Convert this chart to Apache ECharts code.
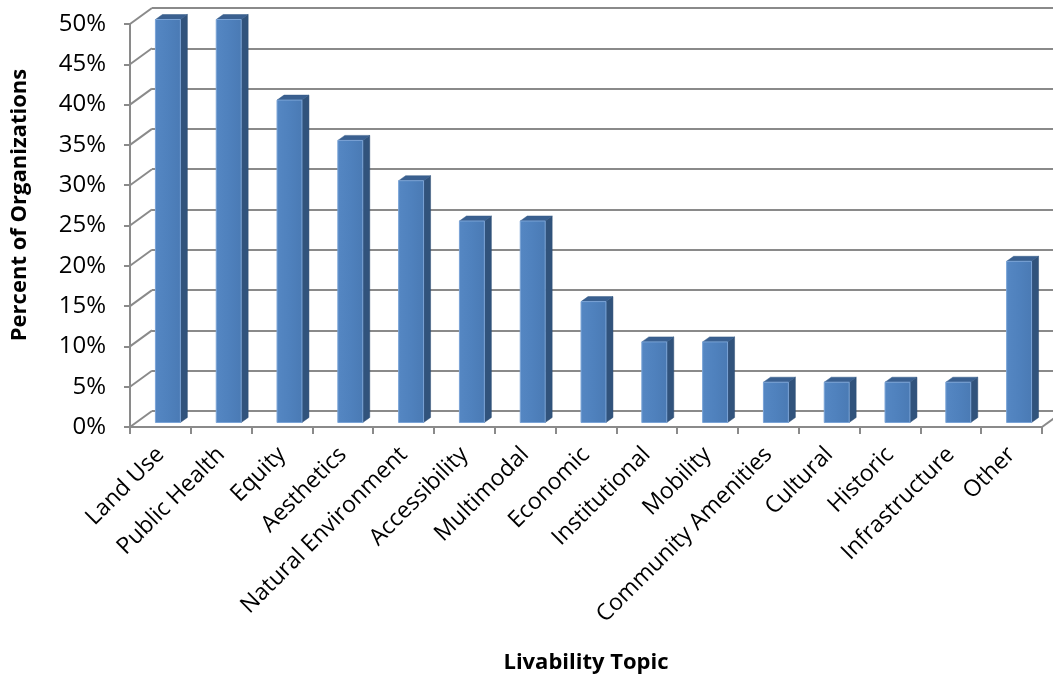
<!DOCTYPE html>
<html>
<head>
<meta charset="utf-8">
<title>Livability Topic</title>
<script src="https://cdn.jsdelivr.net/npm/echarts@6/dist/echarts.min.js"></script>
<style>
  html, body { margin: 0; padding: 0; background: #ffffff; }
  #chart { width: 1053px; height: 679px; }
</style>
</head>
<body>
<div id="chart"></div>
<script>
// Share of organizations addressing each livability topic (percent)
const categories = [
  'Land Use', 'Public Health', 'Equity', 'Aesthetics', 'Natural Environment',
  'Accessibility', 'Multimodal', 'Economic', 'Institutional', 'Mobility',
  'Community Amenities', 'Cultural', 'Historic', 'Infrastructure', 'Other'
];
const percentValues = [50, 50, 40, 35, 30, 25, 25, 15, 10, 10, 5, 5, 5, 5, 20];
const yTicks = [0, 5, 10, 15, 20, 25, 30, 35, 40, 45, 50];

// 3D look: wall depth and bar depth (pixels)
const WALL_DX = 22, WALL_DY = 16;
const BAR_DX = 7, BAR_DY = 5;
const GRID_COLOR = '#8a8a8a';
const FONT = '"Open Sans", "Liberation Sans", sans-serif';

const chart = echarts.init(document.getElementById('chart'), null, { renderer: 'canvas' });

// Left wall / floor connectors from the front axis to the back wall
function renderWall(params, api) {
  const cs = params.coordSys;
  const v = api.value(0);
  const p = api.coord([0, v]);
  const x = cs.x, y = p[1];
  const children = [{
    type: 'line',
    shape: { x1: x, y1: y, x2: x + WALL_DX, y2: y - WALL_DY },
    style: { stroke: GRID_COLOR, lineWidth: 2 }
  }];
  if (v === 0) {
    const xr = cs.x + cs.width;
    children.push({
      type: 'line',
      shape: { x1: xr, y1: y, x2: xr + WALL_DX, y2: y - WALL_DY },
      style: { stroke: GRID_COLOR, lineWidth: 2 }
    });
  }
  return { type: 'group', children: children };
}

// Extruded column: front face, right side and top
function renderBar(params, api) {
  const i = api.value(0);
  const v = api.value(1);
  const base = api.coord([i, 0]);
  const top = api.coord([i, v]);
  const band = api.size([1, 0])[0];
  const w = band * 0.41;
  const cx = base[0] + 7.5;
  const x1 = cx - w / 2, x2 = cx + w / 2;
  const yb = base[1] - 4.5, yt = top[1] - 4.5;
  return {
    type: 'group',
    children: [
      {
        type: 'polygon',
        shape: { points: [[x2, yb], [x2, yt], [x2 + BAR_DX, yt - BAR_DY], [x2 + BAR_DX, yb - BAR_DY]] },
        style: { fill: '#31537c', stroke: '#2d4c73', lineWidth: 0.5 }
      },
      {
        type: 'polygon',
        shape: { points: [[x1, yt], [x2, yt], [x2 + BAR_DX, yt - BAR_DY], [x1 + BAR_DX, yt - BAR_DY]] },
        style: { fill: '#3a6090', stroke: '#355a87', lineWidth: 0.5 }
      },
      {
        type: 'rect',
        shape: { x: x1, y: yt, width: w, height: yb - yt },
        style: {
          fill: new echarts.graphic.LinearGradient(0, 0, 1, 0, [
            { offset: 0, color: '#5587c3' },
            { offset: 0.5, color: '#4f81bd' },
            { offset: 1, color: '#4a7ab4' }
          ]),
          stroke: '#7aa3d6', lineWidth: 1
        }
      }
    ]
  };
}

const option = {
  backgroundColor: '#ffffff',
  animation: false,
  textStyle: { fontFamily: FONT },
  grid: [
    { left: 130, top: 24, right: 11, bottom: 252, containLabel: false },
    { left: 130 + WALL_DX, top: 24 - WALL_DY, right: 0, bottom: 252 + WALL_DY, containLabel: false }
  ],
  xAxis: [
    {
      type: 'category', gridIndex: 0, data: categories, boundaryGap: true,
      axisLine: { show: true, lineStyle: { color: GRID_COLOR, width: 2 } },
      axisTick: { show: true, length: 7, alignWithLabel: false, lineStyle: { color: GRID_COLOR, width: 2 } },
      axisLabel: {
        rotate: 45, interval: 0, margin: 24,
        fontSize: 23, color: '#000000', fontFamily: FONT
      },
      splitLine: { show: false }
    },
    {
      type: 'category', gridIndex: 1, data: categories, show: false
    }
  ],
  yAxis: [
    {
      type: 'value', gridIndex: 0, min: 0, max: 50, interval: 5,
      axisLine: { show: true, lineStyle: { color: GRID_COLOR, width: 2 } },
      axisTick: { show: true, length: 6, lineStyle: { color: GRID_COLOR, width: 2 } },
      axisLabel: {
        formatter: '{value}%', margin: 24,
        fontSize: 24, color: '#000000', fontFamily: FONT
      },
      splitLine: { show: false }
    },
    {
      type: 'value', gridIndex: 1, min: 0, max: 50, interval: 5,
      axisLine: { show: false }, axisTick: { show: false }, axisLabel: { show: false },
      splitLine: { show: true, lineStyle: { color: GRID_COLOR, width: 2 } }
    }
  ],
  graphic: [
    {
      type: 'text',
      rotation: Math.PI / 2,
      x: 20, y: 205,
      style: {
        text: 'Percent of Organizations',
        fontSize: 22, fontWeight: 'bold', fill: '#000000', fontFamily: FONT,
        textAlign: 'center', textVerticalAlign: 'middle'
      }
    },
    {
      type: 'text',
      x: 586, y: 663,
      style: {
        text: 'Livability Topic',
        fontSize: 22, fontWeight: 'bold', fill: '#000000', fontFamily: FONT,
        textAlign: 'center', textVerticalAlign: 'middle'
      }
    }
  ],
  series: [
    {
      type: 'custom', xAxisIndex: 0, yAxisIndex: 0,
      renderItem: renderWall,
      data: yTicks.map(function (t) { return [t]; }),
      encode: { y: 0 },
      clip: false, silent: true, z: 1
    },
    {
      type: 'custom', xAxisIndex: 0, yAxisIndex: 0,
      renderItem: renderBar,
      data: percentValues.map(function (v, i) { return [i, v]; }),
      encode: { x: 0, y: 1 },
      clip: false, z: 5
    }
  ]
};

chart.setOption(option);
</script>
</body>
</html>
